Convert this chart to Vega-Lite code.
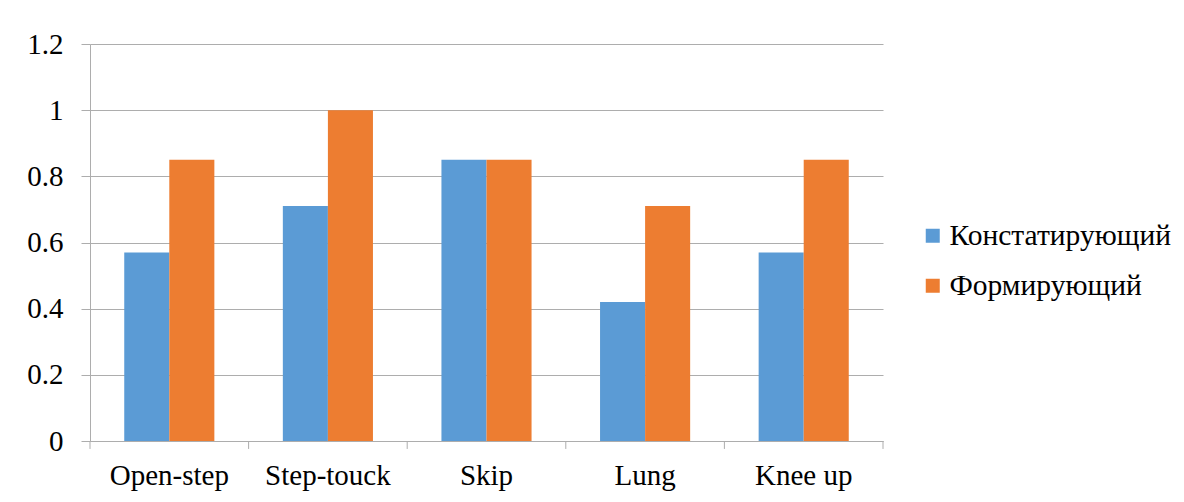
{
  "$schema": "https://vega.github.io/schema/vega-lite/v6.json",
  "width": 793,
  "height": 397,
  "autosize": {"type": "none"},
  "padding": {"left": 90, "top": 44, "right": 301, "bottom": 61},
  "background": "white",
  "config": {"view": {"stroke": null}, "font": "Liberation Serif"},
  "datasets": {
    "bars": [
      {"cat": "Open-step", "series": "Констатирующий", "value": 0.57},
      {"cat": "Open-step", "series": "Формирующий", "value": 0.85},
      {"cat": "Step-touck", "series": "Констатирующий", "value": 0.71},
      {"cat": "Step-touck", "series": "Формирующий", "value": 1.0},
      {"cat": "Skip", "series": "Констатирующий", "value": 0.85},
      {"cat": "Skip", "series": "Формирующий", "value": 0.85},
      {"cat": "Lung", "series": "Констатирующий", "value": 0.42},
      {"cat": "Lung", "series": "Формирующий", "value": 0.71},
      {"cat": "Knee up", "series": "Констатирующий", "value": 0.57},
      {"cat": "Knee up", "series": "Формирующий", "value": 0.85}
    ],
    "ticks": [{"pos": 0}, {"pos": 1}, {"pos": 2}, {"pos": 3}, {"pos": 4}, {"pos": 5}]
  },
  "layer": [
    {
      "data": {"name": "bars"},
      "mark": {"type": "bar"},
      "encoding": {
        "x": {
          "field": "cat", "type": "nominal",
          "sort": ["Open-step", "Step-touck", "Skip", "Lung", "Knee up"],
          "scale": {"paddingInner": 0, "paddingOuter": 0},
          "axis": {
            "title": null, "orient": "bottom", "labelAngle": 0, "ticks": false, "grid": false,
            "domain": true, "domainColor": "#adadad", "domainWidth": 1,
            "labelFont": "Liberation Serif", "labelFontSize": 29, "labelColor": "black",
            "labelPadding": 20
          }
        },
        "xOffset": {
          "field": "series", "type": "nominal",
          "sort": ["Констатирующий", "Формирующий"],
          "scale": {"paddingInner": 0, "paddingOuter": 0.76}
        },
        "y": {
          "field": "value", "type": "quantitative",
          "scale": {"domain": [0, 1.2], "nice": false},
          "axis": {
            "title": null, "values": [0, 0.2, 0.4, 0.6, 0.8, 1, 1.2], "format": "~g",
            "grid": true, "gridColor": "#adadad", "gridWidth": 1,
            "domain": true, "domainColor": "#adadad",
            "ticks": true, "tickSize": 9, "tickColor": "#adadad",
            "labelFont": "Liberation Serif", "labelFontSize": 29, "labelColor": "black",
            "labelPadding": 18
          }
        },
        "color": {
          "field": "series", "type": "nominal",
          "sort": ["Констатирующий", "Формирующий"],
          "scale": {"range": ["#5B9BD5", "#ED7D31"]},
          "legend": {
            "title": null, "orient": "none", "legendX": 828, "legendY": 177,
            "padding": 0, "symbolType": "square", "symbolSize": 196,
            "symbolStrokeWidth": 0, "labelFont": "Liberation Serif",
            "labelFontSize": 29.5, "labelColor": "black", "labelOffset": 2,
            "labelLimit": 0, "rowPadding": 19
          }
        }
      }
    },
    {
      "data": {"name": "ticks"},
      "mark": {"type": "rule", "color": "#adadad", "strokeWidth": 1},
      "encoding": {
        "x": {
          "field": "pos", "type": "quantitative",
          "scale": {"domain": [0, 5], "nice": false, "zero": false},
          "axis": null
        },
        "y": {"datum": 0},
        "y2": {"datum": -0.024}
      }
    }
  ],
  "resolve": {"scale": {"x": "independent"}, "axis": {"x": "independent"}}
}
